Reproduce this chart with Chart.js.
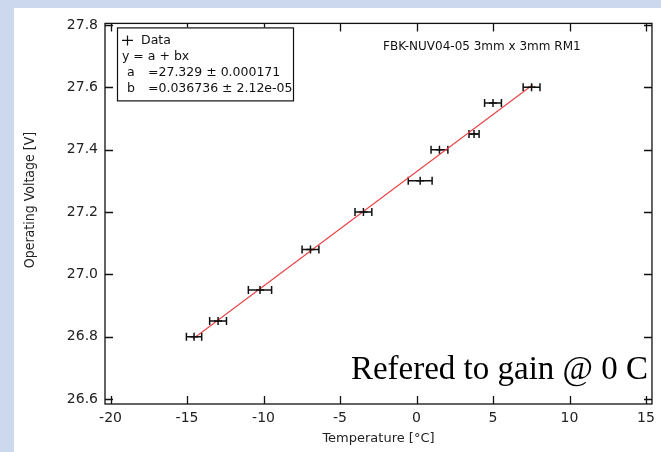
<!DOCTYPE html>
<html>
<head>
<meta charset="utf-8">
<script src="https://cdn.jsdelivr.net/npm/chart.js@4.4.1/dist/chart.umd.min.js"></script>
<style>
  html, body { margin: 0; padding: 0; background: #ccd8ee; }
  #painel { position: absolute; left: 14px; top: 8px; width: 647px; height: 444px; background: #fff; }
  canvas { display: block; }
</style>
</head>
<body>
<div id="painel"><canvas id="grafico" width="647" height="444"></canvas></div>
<script>
// dados
const temperatura = [-14.54, -12.97, -10.23, -6.93, -3.47, 0.24, 1.5, 3.76, 5.0, 7.52];
const tensao      = [26.80, 26.85, 26.95, 27.08, 27.20, 27.30, 27.40, 27.45, 27.55, 27.60];
const erroTemp    = [0.50, 0.55, 0.76, 0.55, 0.55, 0.78, 0.55, 0.33, 0.55, 0.55];

// reta do ajuste (extremos)
const ajusteX = [-14.6, 7.6];
const ajusteY = [26.793, 27.608];

const xTicks = [-20, -15, -10, -5, 0, 5, 10, 15];
const xTickLabels = ["-20", "-15", "-10", "-5", "0", "5", "10", "15"];
const yTicks = [26.6, 26.8, 27.0, 27.2, 27.4, 27.6, 27.8];
const yTickLabels = ["26.6", "26.8", "27.0", "27.2", "27.4", "27.6", "27.8"];

const legendaLinhas = ["y = a + bx", "a", "b"];
const legendaValores = ["", "=27.329 \u00b1 0.000171", "=0.036736 \u00b1 2.12e-05"];

const fonteSans = "'DejaVu Sans', 'Liberation Sans', sans-serif";

// moldura, ticks internos, barras de erro, legenda e anotações
const pluginIgor = {
  id: 'igor',
  beforeDatasetsDraw(chart) {
    const ctx = chart.ctx;
    const x = chart.scales.x, y = chart.scales.y;
    ctx.save();
    ctx.strokeStyle = '#111';
    ctx.lineWidth = 1.5;
    temperatura.forEach((t, i) => {
      const x1 = x.getPixelForValue(t - erroTemp[i]);
      const x2 = x.getPixelForValue(t + erroTemp[i]);
      const py = y.getPixelForValue(tensao[i]);
      ctx.beginPath();
      ctx.moveTo(x1, py); ctx.lineTo(x2, py);
      ctx.moveTo(x1, py - 4); ctx.lineTo(x1, py + 4);
      ctx.moveTo(x2, py - 4); ctx.lineTo(x2, py + 4);
      ctx.stroke();
    });
    ctx.restore();
  },
  afterDraw(chart) {
    const ctx = chart.ctx;
    const a = chart.chartArea;
    const x = chart.scales.x, y = chart.scales.y;
    ctx.save();
    ctx.strokeStyle = '#111';
    ctx.lineWidth = 1.3;
    ctx.strokeRect(a.left, a.top, a.right - a.left, a.bottom - a.top);
    ctx.beginPath();
    xTicks.forEach(v => {
      const px = Math.round(x.getPixelForValue(v)) + 0.5;
      ctx.moveTo(px, a.bottom); ctx.lineTo(px, a.bottom - 8);
      ctx.moveTo(px, a.top); ctx.lineTo(px, a.top + 8);
    });
    yTicks.forEach(v => {
      const py = Math.round(y.getPixelForValue(v)) + 0.5;
      ctx.moveTo(a.left, py); ctx.lineTo(a.left + 8, py);
      ctx.moveTo(a.right, py); ctx.lineTo(a.right - 8, py);
    });
    ctx.stroke();

    // título do eixo y
    ctx.save();
    ctx.translate(16, 192);
    ctx.rotate(-Math.PI / 2);
    ctx.font = "14px 'DejaVu Sans Condensed', 'Liberation Sans Narrow', 'Liberation Sans', sans-serif";
    ctx.fillStyle = '#222';
    ctx.textAlign = 'center';
    ctx.textBaseline = 'middle';
    ctx.fillText('Operating Voltage [V]', 0, 0);
    ctx.restore();

    // caixa da legenda
    const lx = a.left + 12, ly = a.top + 4;
    ctx.fillStyle = '#fff';
    ctx.fillRect(lx, ly, 176, 73);
    ctx.lineWidth = 1.2;
    ctx.strokeRect(lx + 0.5, ly + 0.5, 176, 73);
    ctx.fillStyle = '#111';
    ctx.font = '12.5px ' + fonteSans;
    ctx.textBaseline = 'middle';
    ctx.beginPath();
    ctx.moveTo(lx + 5, ly + 13); ctx.lineTo(lx + 16, ly + 13);
    ctx.moveTo(lx + 10.5, ly + 8); ctx.lineTo(lx + 10.5, ly + 18);
    ctx.lineWidth = 1.2;
    ctx.stroke();
    ctx.fillText('Data', lx + 24, ly + 13);
    ctx.fillText(legendaLinhas[0], lx + 5, ly + 29);
    ctx.fillText(legendaLinhas[1], lx + 10, ly + 45);
    ctx.fillText(legendaValores[1], lx + 31, ly + 45);
    ctx.fillText(legendaLinhas[2], lx + 10, ly + 61);
    ctx.fillText(legendaValores[2], lx + 31, ly + 61);

    // título da amostra
    ctx.font = '12px ' + fonteSans;
    ctx.fillText('FBK-NUV04-05 3mm x 3mm RM1', 369, 39);

    // anotação
    ctx.font = '33px "Liberation Serif", "Times New Roman", serif';
    ctx.textAlign = 'right';
    ctx.textBaseline = 'alphabetic';
    ctx.fillStyle = '#000';
    ctx.fillText('Refered to gain @ 0 C', 634, 371);
    ctx.restore();
  }
};

const ctx = document.getElementById('grafico').getContext('2d');
new Chart(ctx, {
  type: 'scatter',
  data: {
    datasets: [
      {
        label: 'Data',
        data: temperatura.map((t, i) => ({ x: t, y: tensao[i] })),
        pointStyle: 'cross',
        pointRadius: 4,
        borderColor: '#111',
        borderWidth: 1.5,
        order: 1
      },
      {
        label: 'ajuste',
        type: 'line',
        data: ajusteX.map((t, i) => ({ x: t, y: ajusteY[i] })),
        borderColor: '#e8464a',
        borderWidth: 1.2,
        pointRadius: 0,
        fill: false,
        order: 2
      }
    ]
  },
  options: {
    responsive: false,
    animation: false,
    layout: { padding: { left: 0, top: 11, right: 8, bottom: 0 } },
    plugins: { legend: { display: false }, tooltip: { enabled: false } },
    scales: {
      x: {
        type: 'linear',
        min: -20.36,
        max: 15.39,
        afterBuildTicks: s => { s.ticks = xTicks.map(v => ({ value: v })); },
        afterFit: s => { s.height = 48; },
        grid: { display: false, drawTicks: false, tickLength: 0 },
        border: { display: false },
        ticks: {
          color: '#222',
          padding: 6,
          maxRotation: 0,
          font: { family: fonteSans, size: 14 },
          callback: (v, i) => xTickLabels[i]
        },
        title: {
          display: true,
          text: 'Temperature [\u00b0C]',
          color: '#222',
          font: { family: fonteSans, size: 13 },
          padding: { top: 0, bottom: 6 }
        }
      },
      y: {
        type: 'linear',
        min: 26.584,
        max: 27.805,
        afterBuildTicks: s => { s.ticks = yTicks.map(v => ({ value: v })); },
        afterFit: s => { s.width = 91; },
        grid: { display: false, drawTicks: false, tickLength: 0 },
        border: { display: false },
        ticks: {
          color: '#222',
          padding: 7,
          font: { family: fonteSans, size: 14 },
          callback: (v, i) => yTickLabels[i]
        },
        title: { display: false }
      }
    }
  },
  plugins: [pluginIgor]
});
</script>
</body>
</html>
